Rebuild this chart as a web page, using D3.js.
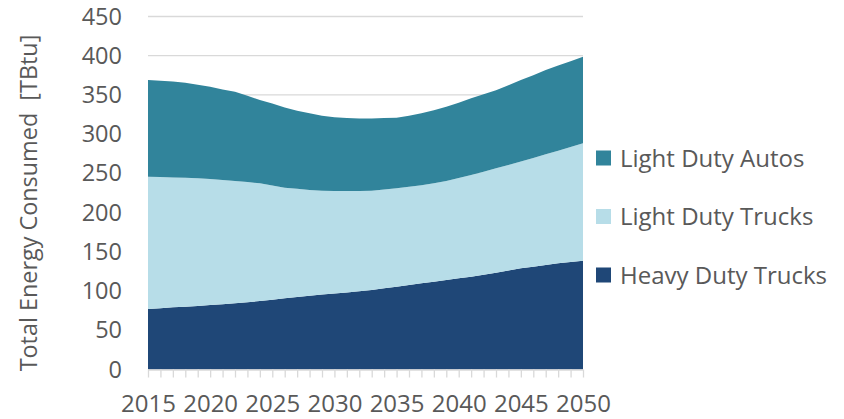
<!DOCTYPE html>
<html>
<head>
<meta charset="utf-8">
<script src="https://cdn.jsdelivr.net/npm/d3@7"></script>
<style>
  html, body { margin: 0; padding: 0; background: #fff; }
  svg { display: block; }
  text { font-family: "Open Sans", "Noto Sans", sans-serif; fill: #595959; }
</style>
</head>
<body>
<svg id="chart" width="844" height="419"></svg>
<script>
const years = d3.range(2015, 2051);
const heavyDutyTrucks = [77, 78.2, 79.2, 80, 81, 82.2, 83.3, 84.4, 85.8, 87.3, 89, 90.7, 92.3, 94, 95.5, 97, 98.2, 99.6, 101.5, 103.5, 105.6, 107.8, 109.9, 112, 114, 116.2, 118.3, 120.8, 123.4, 126.2, 129, 131, 133.2, 135.5, 137, 138.7];
const lightDutyTrucks = [168.8, 167.1, 165.7, 164.5, 162.7, 160.7, 158.2, 155.9, 153.2, 150.1, 145.5, 141.1, 138.0, 134.8, 132.5, 130.6, 129.3, 127.9, 126.5, 126.0, 125.4, 125.2, 125.1, 125.5, 126.3, 127.8, 129.7, 131.2, 133.1, 134.6, 136.0, 138.5, 141.1, 143.5, 146.8, 149.7];
const lightDutyAutos = [123.2, 122.7, 122.1, 121.0, 119.3, 117.6, 115.5, 113.7, 110.0, 106.2, 104.5, 102.2, 99.7, 97.8, 95.5, 93.9, 93.0, 92.5, 92.0, 91.0, 90.0, 90.5, 91.6, 93.0, 94.7, 96.0, 97.7, 99.0, 99.5, 101.7, 104.0, 105.5, 107.5, 108.5, 109.2, 110.4];
const seriesNames = ["Heavy Duty Trucks", "Light Duty Trucks", "Light Duty Autos"];
const yTicks = [0, 50, 100, 150, 200, 250, 300, 350, 400, 450];
const xLabelYears = [2015, 2020, 2025, 2030, 2035, 2040, 2045, 2050];
const yTitle = "Total Energy Consumed  [TBtu]";

const colors = {"Heavy Duty Trucks": "#1f4777", "Light Duty Trucks": "#b7dde8", "Light Duty Autos": "#31849b"};

const rows = years.map((yr, i) => ({
  year: yr,
  "Heavy Duty Trucks": heavyDutyTrucks[i],
  "Light Duty Trucks": lightDutyTrucks[i],
  "Light Duty Autos": lightDutyAutos[i]
}));

const svg = d3.select("#chart");
const plotLeft = 148, plotRight = 583, plotTop = 16.5, plotBottom = 369.5;

const x = d3.scaleLinear().domain([2015, 2050]).range([plotLeft, plotRight]);
const y = d3.scaleLinear().domain([0, 450]).range([plotBottom, plotTop]);

// gridlines
svg.append("g").selectAll("line").data(yTicks.slice(1)).join("line")
  .attr("x1", plotLeft).attr("x2", plotRight)
  .attr("y1", d => y(d)).attr("y2", d => y(d))
  .attr("stroke", "#d9d9d9").attr("stroke-width", 1.3);

const stack = d3.stack().keys(seriesNames);
const layers = stack(rows);
const area = d3.area()
  .x(d => x(d.data.year))
  .y0(d => y(d[0]))
  .y1(d => y(d[1]))
  .curve(d3.curveLinear);

svg.append("g").selectAll("path").data(layers).join("path")
  .attr("d", area)
  .attr("fill", d => colors[d.key]);

// x axis
const xAxis = d3.axisBottom(x)
  .tickValues(years)
  .tickSize(8)
  .tickFormat(d => xLabelYears.includes(d) ? String(d) : "");
const gx = svg.append("g").attr("transform", `translate(0,${plotBottom})`).call(xAxis);
gx.select(".domain").attr("stroke", "#d9d9d9").attr("stroke-width", 1.3).attr("d", `M${plotLeft},0.5H${plotRight}`);
gx.selectAll(".tick line").attr("stroke", "#d9d9d9").attr("stroke-width", 1.3);
gx.selectAll(".tick text")
  .attr("y", 42.5).attr("dy", "0")
  .style("font-family", '"Open Sans", sans-serif')
  .style("font-size", "24px").attr("fill", "#595959");

// y axis
const yAxis = d3.axisLeft(y).tickValues(yTicks).tickSize(0).tickPadding(0);
const gy = svg.append("g").attr("transform", `translate(${plotLeft - 26},0)`).call(yAxis);
gy.select(".domain").remove();
gy.selectAll(".tick text")
  .style("font-family", '"Open Sans", sans-serif')
  .style("font-size", "23.5px").attr("fill", "#595959");

// y title
svg.append("text")
  .attr("transform", `translate(36.5,203) rotate(-90)`)
  .attr("text-anchor", "middle")
  .style("font-size", "23.4px")
  .style("white-space", "pre")
  .attr("xml:space", "preserve")
  .text(yTitle);

// legend
const legendOrder = ["Light Duty Autos", "Light Duty Trucks", "Heavy Duty Trucks"];
const lg = svg.append("g").selectAll("g").data(legendOrder).join("g")
  .attr("transform", (d, i) => `translate(596,${158 + i * 58.5})`);
lg.append("rect").attr("x", 0).attr("y", -7.5).attr("width", 15).attr("height", 15)
  .attr("fill", d => colors[d]);
lg.append("text").attr("x", 24).attr("y", 0).attr("dy", "0.36em")
  .style("font-size", "24px").text(d => d);
</script>
</body>
</html>
